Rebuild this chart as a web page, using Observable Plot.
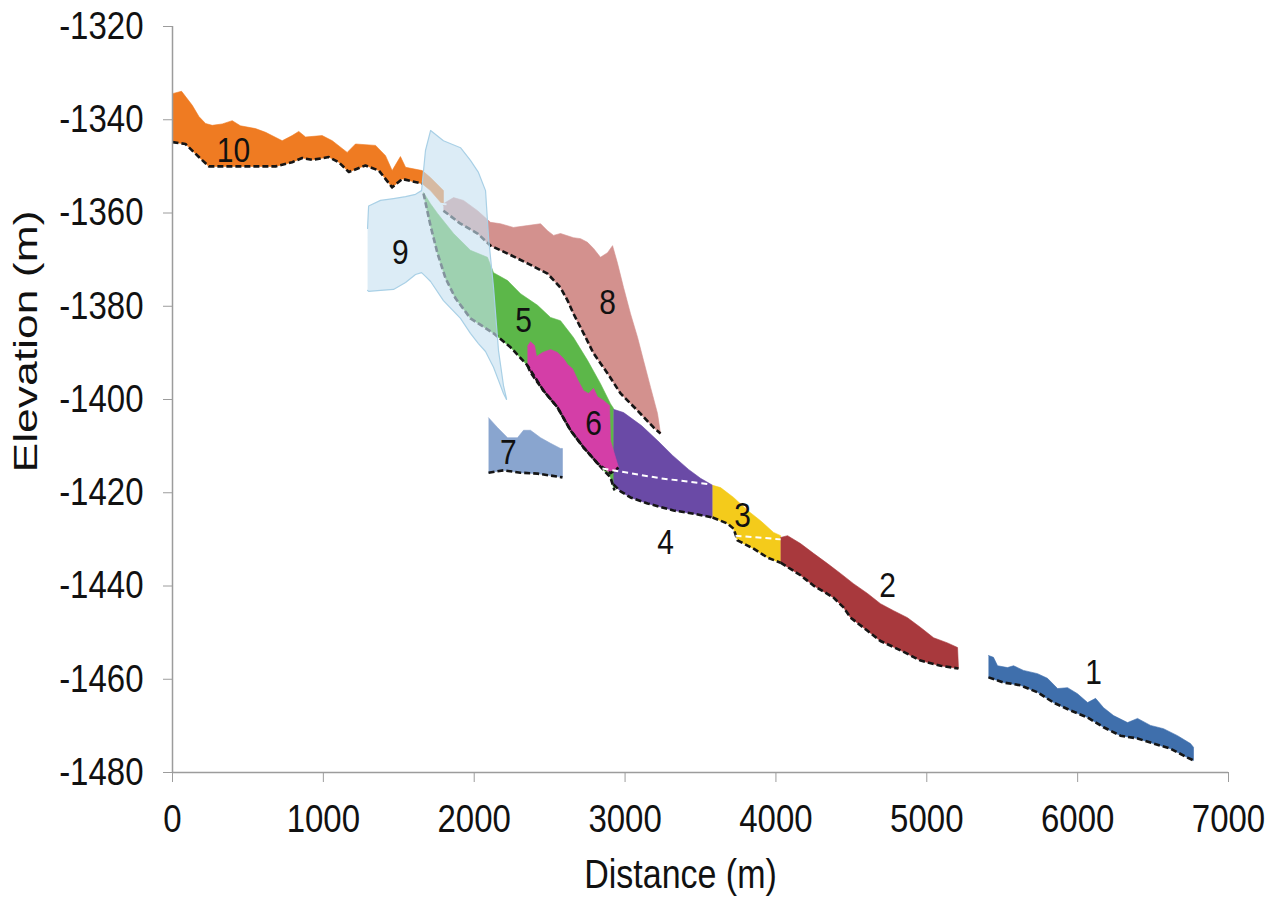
<!DOCTYPE html>
<html>
<head>
<meta charset="utf-8">
<script src="https://cdn.jsdelivr.net/npm/d3@7"></script>
<script src="https://cdn.jsdelivr.net/npm/@observablehq/plot@0.6"></script>
<style>
html, body { margin: 0; padding: 0; background: #fff; }
#chart svg { display: block; }
</style>
</head>
<body>
<div id="chart"></div>
<script>
// Axis ticks
const xTicks = [0, 1000, 2000, 3000, 4000, 5000, 6000, 7000];
const yTicks = [-1320, -1340, -1360, -1380, -1400, -1420, -1440, -1460, -1480];

// Lobe profiles: [distance (m), elevation (m)] — top surface and base
const lobe10Top = [[0,-1334.4],[60,-1333.9],[131,-1336.9],[175,-1339.3],[219,-1340.8],[263,-1341.2],[330,-1340.9],[396,-1340.2],[450,-1341.3],[550,-1341.9],[617,-1342.7],[727,-1344.5],[793,-1343.4],[837,-1342.5],[882,-1343.7],[992,-1343.4],[1059,-1344.5],[1158,-1347.0],[1213,-1345.2],[1346,-1345.5],[1412,-1347.7],[1456,-1350.9],[1511,-1347.9],[1545,-1350.2],[1655,-1350.9],[1710,-1352.4],[1796,-1355.2]];
const lobe10Base = [[0,-1344.8],[86,-1345.2],[175,-1348.0],[241,-1350.0],[505,-1350.0],[683,-1350.0],[793,-1349.1],[860,-1348.2],[926,-1348.6],[1036,-1348.0],[1102,-1349.1],[1169,-1351.2],[1279,-1349.8],[1368,-1350.9],[1456,-1354.5],[1523,-1352.7],[1655,-1353.7],[1710,-1355.2],[1796,-1358.4]];

const lobe9Top = [[1293,-1363.3],[1300,-1358.5],[1379,-1357.3],[1465,-1356.9],[1545,-1356.5],[1611,-1356.0],[1651,-1355.2],[1677,-1346.6],[1711,-1342.3],[1796,-1344.5],[1909,-1346.0],[1975,-1348.7],[2028,-1351.3],[2075,-1355.2],[2095,-1365.3],[2128,-1376.0],[2161,-1389.5],[2194,-1397.0],[2214,-1399.8]];
const lobe9Base = [[1293,-1376.6],[1300,-1376.8],[1379,-1376.6],[1465,-1376.4],[1545,-1374.9],[1611,-1373.2],[1651,-1372.8],[1677,-1373.6],[1711,-1374.7],[1796,-1378.8],[1909,-1382.6],[1975,-1385.8],[2028,-1388.0],[2075,-1389.7],[2095,-1391.0],[2128,-1393.1],[2161,-1395.9],[2194,-1398.7],[2214,-1400.0]];

const lobe8Top = [[1796,-1358.0],[1863,-1356.7],[1929,-1357.3],[2022,-1359.5],[2108,-1362.0],[2174,-1362.3],[2260,-1363.1],[2353,-1362.7],[2440,-1362.3],[2486,-1363.8],[2526,-1364.8],[2572,-1364.4],[2658,-1365.3],[2705,-1365.5],[2751,-1366.3],[2791,-1367.6],[2837,-1369.5],[2884,-1368.5],[2917,-1367.0],[2950,-1370.8],[2990,-1376.0],[3036,-1381.6],[3083,-1386.7],[3122,-1391.6],[3169,-1397.4],[3215,-1403.0],[3235,-1407.3]];
const lobe8Base = [[1796,-1359.5],[1909,-1362.3],[2022,-1364.4],[2108,-1367.0],[2221,-1368.7],[2353,-1370.8],[2486,-1373.0],[2572,-1376.0],[2619,-1378.8],[2658,-1381.6],[2725,-1385.8],[2791,-1390.1],[2884,-1394.4],[2970,-1398.7],[3083,-1402.4],[3189,-1406.0],[3235,-1407.3]];

const lobe5Top = [[1664,-1355.6],[1710,-1358.0],[1757,-1360.1],[1863,-1364.4],[1975,-1368.0],[2088,-1369.5],[2128,-1372.8],[2221,-1374.5],[2307,-1377.3],[2420,-1379.8],[2506,-1382.4],[2572,-1383.1],[2658,-1386.7],[2751,-1391.6],[2837,-1396.6],[2903,-1400.9],[2923,-1401.9],[2930,-1419.5]];
const lobe5Base = [[1664,-1355.8],[1710,-1362.7],[1757,-1368.7],[1810,-1374.0],[1876,-1378.3],[1975,-1382.6],[2128,-1385.8],[2241,-1388.8],[2353,-1392.7],[2459,-1398.1],[2552,-1401.7],[2638,-1406.6],[2725,-1410.3],[2817,-1413.7],[2903,-1416.7],[2930,-1419.5]];

const lobe6Top = [[2353,-1388.6],[2373,-1387.6],[2400,-1388.4],[2413,-1390.8],[2453,-1389.9],[2506,-1389.3],[2552,-1389.9],[2592,-1391.2],[2619,-1392.5],[2652,-1393.4],[2685,-1395.7],[2725,-1398.1],[2758,-1398.7],[2791,-1397.6],[2817,-1399.4],[2857,-1400.2],[2897,-1401.3],[2904,-1408.9],[2957,-1414.6]];
const lobe6Base = [[2353,-1392.7],[2373,-1394.2],[2459,-1398.1],[2552,-1401.7],[2638,-1406.6],[2725,-1410.3],[2817,-1413.7],[2904,-1415.8],[2957,-1414.6]];

const lobe4Top = [[2923,-1402.1],[2990,-1402.8],[3109,-1405.6],[3215,-1408.8],[3315,-1412.0],[3421,-1415.0],[3500,-1416.9],[3580,-1418.4]];
const lobe4Base = [[2923,-1418.2],[2970,-1419.7],[3036,-1421.0],[3149,-1422.3],[3321,-1423.8],[3454,-1424.5],[3580,-1425.3]];

const lobe3Top = [[3580,-1418.4],[3633,-1418.9],[3719,-1421.0],[3812,-1423.8],[3898,-1426.0],[3984,-1428.5],[4031,-1429.2]];
const lobe3Base = [[3580,-1425.3],[3679,-1426.6],[3719,-1427.7],[3745,-1430.2],[3852,-1432.0],[3944,-1433.9],[4031,-1435.0]];

const lobe2Top = [[4031,-1429.6],[4077,-1429.2],[4163,-1430.9],[4249,-1433.0],[4342,-1435.2],[4428,-1437.3],[4514,-1439.5],[4607,-1441.6],[4693,-1443.8],[4780,-1445.3],[4872,-1446.8],[4959,-1448.9],[5045,-1451.1],[5137,-1452.2],[5204,-1453.2],[5210,-1457.7]];
const lobe2Base = [[4031,-1435.0],[4163,-1437.7],[4249,-1439.9],[4382,-1442.5],[4448,-1444.6],[4495,-1446.8],[4607,-1449.6],[4693,-1451.8],[4826,-1453.8],[4959,-1456.0],[5091,-1457.1],[5210,-1457.7]];

const lobe1Top = [[5409,-1454.9],[5442,-1455.3],[5469,-1457.1],[5535,-1457.5],[5575,-1457.1],[5641,-1458.1],[5734,-1458.8],[5800,-1459.8],[5867,-1462.0],[5933,-1461.8],[5999,-1463.1],[6066,-1465.0],[6119,-1464.1],[6172,-1466.1],[6238,-1467.8],[6331,-1469.3],[6397,-1468.4],[6483,-1469.9],[6569,-1470.6],[6662,-1472.1],[6748,-1473.8],[6768,-1474.6],[6768,-1477.4]];
const lobe1Base = [[5409,-1459.6],[5509,-1460.7],[5621,-1461.3],[5734,-1462.8],[5840,-1465.0],[5953,-1466.7],[6066,-1468.2],[6172,-1470.3],[6284,-1472.1],[6397,-1472.7],[6503,-1473.8],[6616,-1474.9],[6728,-1476.8],[6768,-1477.4]];

const lobe7Top = [[2095,-1403.9],[2154,-1406.0],[2221,-1408.2],[2287,-1408.2],[2327,-1406.6],[2373,-1406.6],[2440,-1408.2],[2506,-1409.4],[2572,-1410.5],[2585,-1410.5]];
const lobe7Base = [[2095,-1415.7],[2194,-1415.2],[2307,-1415.7],[2420,-1415.9],[2585,-1416.7]];

// Buried bases (white dashed)
const buriedBase1 = [[2850,-1414.8],[3235,-1416.9],[3567,-1418.2]];
const buriedBase2 = [[3732,-1429.2],[4031,-1430.0]];
const buriedBase3 = [[1777,-1358.0],[1830,-1358.2]];

// Lobe labels
const labelText = ["1","2","3","4","5","6","7","8","9","10"];
const labelX = [6105, 4740, 3779, 3268, 2327, 2791, 2227, 2884, 1511, 404];
const labelY = [-1458.6, -1439.9, -1424.9, -1430.7, -1383.1, -1405.1, -1411.4, -1379.2, -1368.5, -1346.6];

// Colours
const colors = {
  1: "#3F6FAC", 2: "#A8393D", 3: "#F4CB1B", 4: "#6A4AA6", 5: "#5CB749",
  6: "#D43EA7", 7: "#89A5CF", 8: "#D3918E", 9: "#C6E1F0", 10: "#EF7B22"
};

const polygon = (top, base) => top.concat(base.slice().reverse());
const px = d => d[0], py = d => d[1];

const fillLobe = (top, base, color, extra = {}) =>
  Plot.line(polygon(top, base), {x: px, y: py, fill: color, stroke: color, strokeWidth: 0.6, ...extra});
const baseLine = (base) =>
  Plot.line(base, {x: px, y: py, stroke: "#151515", strokeWidth: 2.6, strokeDasharray: "6,3", strokeLinecap: "butt"});
const whiteLine = (base) =>
  Plot.line(base, {x: px, y: py, stroke: "#ffffff", strokeWidth: 2, strokeDasharray: "6,4", strokeLinecap: "butt"});

const labels = labelText.map((t, i) => ({t, x: labelX[i], y: labelY[i]}));

const chart = Plot.plot({
  width: 1281,
  height: 899,
  marginLeft: 172,
  marginRight: 53,
  marginTop: 26,
  marginBottom: 127,
  x: {domain: [0, 7000]},
  y: {domain: [-1480, -1320]},
  style: {fontFamily: "'Liberation Sans', Arial, sans-serif", fontSize: "33px", color: "#111", background: "#fff"},
  marks: [
    fillLobe(lobe10Top, lobe10Base, colors[10]),
    fillLobe(lobe8Top, lobe8Base, colors[8]),
    fillLobe(lobe5Top, lobe5Base, colors[5]),
    fillLobe(lobe4Top, lobe4Base, colors[4]),
    fillLobe(lobe6Top, lobe6Base, colors[6]),
    fillLobe(lobe7Top, lobe7Base, colors[7]),
    fillLobe(lobe3Top, lobe3Base, colors[3]),
    fillLobe(lobe2Top, lobe2Base, colors[2]),
    fillLobe(lobe1Top, lobe1Base, colors[1]),
    baseLine(lobe10Base.filter(d => d[0] <= 1660)),
    baseLine(lobe8Base),
    baseLine(lobe5Base),
    baseLine(lobe6Base),
    baseLine(lobe4Base),
    baseLine(lobe7Base),
    baseLine(lobe3Base),
    baseLine(lobe2Base),
    baseLine(lobe1Base),
    whiteLine(buriedBase1),
    whiteLine(buriedBase2),
    whiteLine(buriedBase3),
    fillLobe(lobe9Top, lobe9Base, colors[9], {fillOpacity: 0.62, stroke: "#A9D0E6", strokeWidth: 1.2}),
    Plot.text(labels, {x: "x", y: "y", text: "t", fontSize: 30, fill: "#111"}),
    Plot.ruleX([0], {y1: -1480, y2: -1320, stroke: "#9c9c9c", strokeWidth: 1.5}),
    Plot.ruleY([-1480], {x1: 0, x2: 7000, stroke: "#9c9c9c", strokeWidth: 1.5}),
    Plot.axisX({ticks: xTicks, tickSize: 10, tickPadding: 22, tickFormat: d => String(d), stroke: "#9c9c9c", fill: "#111", label: null}),
    Plot.axisY({ticks: yTicks, tickSize: 9, tickPadding: 20, tickFormat: d => String(d), stroke: "#9c9c9c", fill: "#111", label: null}),
    Plot.text(["Distance (m)"], {frameAnchor: "bottom", lineAnchor: "middle", textAnchor: "middle", dx: -20, dy: 103, fontSize: 34, fill: "#111"}),
    Plot.text(["Elevation (m)"], {frameAnchor: "left", lineAnchor: "middle", textAnchor: "middle", dx: -146, dy: -58, rotate: -90, fontSize: 33, fill: "#111"})
  ]
});

// The reference's lettering is slightly taller than wide: stretch text vertically.
d3.select(chart).selectAll("text").each(function() {
  const el = d3.select(this);
  const t = el.attr("transform") || "";
  if (t.includes("rotate")) {
    el.attr("textLength", 262).attr("lengthAdjust", "spacingAndGlyphs");
  } else if (t) {
    el.attr("transform", t + " scale(1,1.18)");
  } else {
    const x = +el.attr("x") || 0, y = +el.attr("y") || 0;
    el.attr("transform", `translate(${x},${y}) scale(1,1.18) translate(${-x},${-y})`);
  }
});

document.getElementById("chart").appendChild(chart);
</script>
</body>
</html>
